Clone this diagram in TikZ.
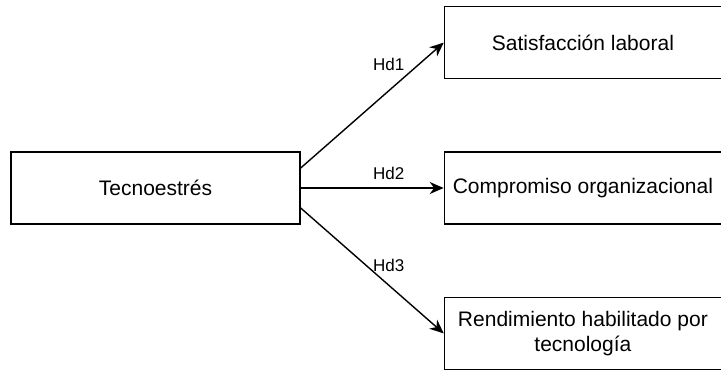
\documentclass[tikz,border=0pt]{standalone}
\usepackage{fontspec}
\setmainfont{Liberation Sans}
\usetikzlibrary{positioning,arrows.meta}

\begin{document}
\begin{tikzpicture}[x=0.5pt, y=-0.5pt,
    main/.style = {draw, line width=0.7pt, rectangle, inner sep=0pt, align=center, font=\fontsize{10.5pt}{12.5pt}\selectfont},
    arr/.style = {line width=0.7pt, -{Stealth[length=7pt, width=6pt, inset=2.2pt]}},
    lbl/.style = {inner sep=0pt, font=\fontsize{8.5pt}{10pt}\selectfont}]
			\useasboundingbox (0,0) rectangle (721,369);
			\node[main, minimum width=144.5pt, minimum height=36pt] (tecno) at (155.5,188) {Tecnoestrés};
			\node[main, minimum width=138.5pt, minimum height=36pt, right=71.5pt of tecno] (comp) {Compromiso organizacional};
			\node[main, minimum width=138.5pt, minimum height=36pt, above=36pt of comp] (satis) {Satisfacción laboral};
			\node[main, minimum width=138.5pt, minimum height=36pt, below=36pt of comp] (rend) {Rendimiento habilitado por\\tecnología};
			\draw[arr] ([yshift=10pt]tecno.east) -- (satis.west) node[lbl, pos=0.615, yshift=13.3pt] (hd1) {Hd1};
			\draw[arr] (tecno.east) -- (comp.west) node[lbl, pos=0.615, yshift=7.5pt] (hd2) {Hd2};
			\draw[arr] ([yshift=-10pt]tecno.east) -- (rend.west) node[lbl, pos=0.615, yshift=10pt] (hd3) {Hd3};
		\end{tikzpicture}
\end{document}
